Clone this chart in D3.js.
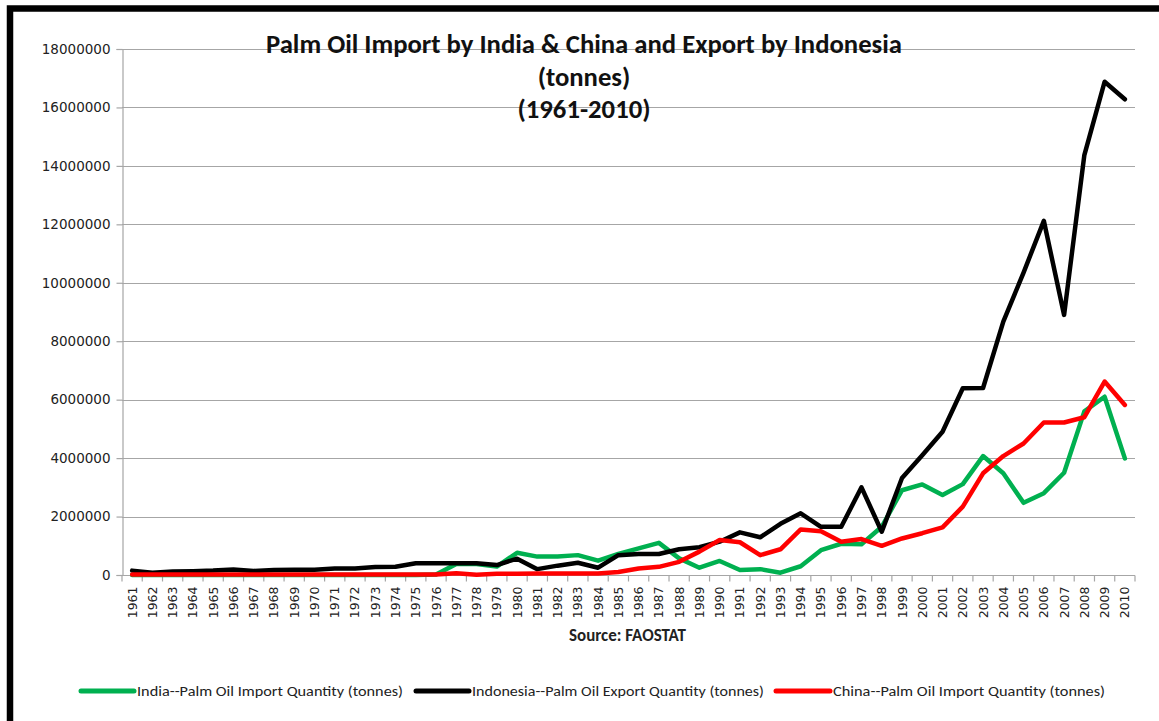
<!DOCTYPE html>
<html>
<head>
<meta charset="utf-8">
<script src="https://cdn.jsdelivr.net/npm/d3@7"></script>
<style>
  html, body { margin: 0; padding: 0; background: #fff; }
  svg { display: block; }
</style>
</head>
<body>
<svg id="chart" width="1159" height="721"></svg>
<script>
// Palm oil trade, 1961-2010, in tonnes (FAOSTAT)
const years = d3.range(1961, 2011).map(String);

const yTicks = [0, 2000000, 4000000, 6000000, 8000000, 10000000, 12000000, 14000000, 16000000, 18000000];

const indiaImport = [
  0, 0, 0, 0, 0, 0, 0, 0, 0, 0,
  0, 0, 0, 0, 0, 20000, 380000, 380000, 290000, 760000,
  630000, 630000, 680000, 490000, 720000, 910000, 1100000, 570000, 250000, 480000,
  170000, 200000, 80000, 300000, 850000, 1070000, 1050000, 1650000, 2900000, 3100000,
  2740000, 3110000, 4070000, 3480000, 2470000, 2800000, 3500000, 5600000, 6100000, 3990000
];

const indonesiaExport = [
  150000, 80000, 120000, 130000, 150000, 190000, 140000, 170000, 180000, 180000,
  220000, 220000, 270000, 280000, 400000, 400000, 400000, 400000, 340000, 560000,
  200000, 320000, 420000, 250000, 680000, 720000, 720000, 880000, 950000, 1140000,
  1460000, 1290000, 1750000, 2110000, 1650000, 1650000, 3000000, 1480000, 3320000, 4100000,
  4900000, 6390000, 6400000, 8670000, 10350000, 12120000, 8900000, 14370000, 16880000, 16280000
];

const chinaImport = [
  20000, 20000, 20000, 20000, 20000, 20000, 20000, 20000, 20000, 20000,
  20000, 20000, 20000, 20000, 20000, 20000, 60000, 10000, 40000, 40000,
  50000, 50000, 50000, 50000, 100000, 220000, 280000, 450000, 800000, 1200000,
  1120000, 680000, 880000, 1560000, 1500000, 1140000, 1230000, 1000000, 1250000, 1430000,
  1630000, 2340000, 3480000, 4070000, 4500000, 5220000, 5220000, 5400000, 6620000, 5820000
];

const seriesNames = [
  "India--Palm Oil Import Quantity (tonnes)",
  "Indonesia--Palm Oil Export Quantity (tonnes)",
  "China--Palm Oil Import Quantity (tonnes)"
];
const seriesColors = ["#00b050", "#000000", "#ff0000"];
const seriesValues = [indiaImport, indonesiaExport, chinaImport];

const titleLines = [
  "Palm Oil Import by India & China and Export by Indonesia",
  "(tonnes)",
  "(1961-2010)"
];
const sourceNote = "Source: FAOSTAT";

const svg = d3.select("#chart");
const plot = { left: 122, right: 1135, top: 49, bottom: 575 };

const x = d3.scaleBand().domain(years).range([plot.left, plot.right]).padding(0);
const y = d3.scaleLinear().domain([0, 18000000]).range([plot.bottom, plot.top]);

const gridColor = "#a6a6a6";

// horizontal gridlines
svg.append("g")
  .selectAll("line")
  .data(yTicks.filter(d => d > 0))
  .join("line")
  .attr("x1", plot.left).attr("x2", plot.right)
  .attr("y1", d => Math.round(y(d)) + 0.5).attr("y2", d => Math.round(y(d)) + 0.5)
  .attr("stroke", gridColor).attr("stroke-width", 1.2);

// y axis
const yAxis = svg.append("g")
  .attr("transform", `translate(${plot.left + 0.5},0)`)
  .call(d3.axisLeft(y).tickValues(yTicks).tickFormat(d3.format("d")).tickSize(6).tickPadding(6));
yAxis.select(".domain").attr("stroke", gridColor).attr("stroke-width", 1.2);
yAxis.selectAll(".tick line").attr("stroke", gridColor).attr("stroke-width", 1.2);
yAxis.selectAll(".tick text")
  .attr("font-family", "'DejaVu Sans', Verdana, sans-serif")
  .attr("font-size", "13.5px")
  .attr("fill", "#222");

// x axis: ticks sit on the category boundaries
const xAxisG = svg.append("g").attr("transform", `translate(0,${Math.round(plot.bottom) + 0.5})`);
xAxisG.append("line")
  .attr("x1", plot.left).attr("x2", plot.right)
  .attr("stroke", gridColor).attr("stroke-width", 1.2);
xAxisG.selectAll("line.tick")
  .data(years.concat(["end"]))
  .join("line")
  .attr("class", "tick")
  .attr("x1", (d, i) => plot.left + i * x.bandwidth())
  .attr("x2", (d, i) => plot.left + i * x.bandwidth())
  .attr("y1", 0).attr("y2", 6)
  .attr("stroke", gridColor).attr("stroke-width", 1.2);
xAxisG.selectAll("text")
  .data(years)
  .join("text")
  .attr("transform", d => `translate(${x(d) + x.bandwidth() / 2 + 4.5},${11}) rotate(-90)`)
  .attr("text-anchor", "end")
  .attr("font-family", "'DejaVu Sans', Verdana, sans-serif")
  .attr("font-size", "12.5px")
  .attr("fill", "#222")
  .text(d => d);

// data lines
const line = d3.line()
  .x((d, i) => x(years[i]) + x.bandwidth() / 2)
  .y(d => y(d));

svg.append("g")
  .selectAll("path")
  .data(seriesValues)
  .join("path")
  .attr("d", d => line(d))
  .attr("fill", "none")
  .attr("stroke", (d, i) => seriesColors[i])
  .attr("stroke-width", 4.5)
  .attr("stroke-linejoin", "round")
  .attr("stroke-linecap", "round");

// title
const title = svg.append("text")
  .attr("text-anchor", "middle")
  .attr("font-family", "Carlito, 'Liberation Sans', Arial, sans-serif")
  .attr("font-weight", "bold")
  .attr("font-size", "20px")
  .attr("fill", "#111");
title.selectAll("tspan")
  .data(titleLines)
  .join("tspan")
  .attr("x", 584)
  .attr("y", (d, i) => 53 + i * 32.5)
  .text(d => d);
// fit the first line to its intended width
const firstLen = title.select("tspan").node().getComputedTextLength();
title.attr("font-size", (20 * 636 / firstLen).toFixed(2) + "px");

// source note
const src = svg.append("text")
  .attr("x", 627.5).attr("y", 641)
  .attr("text-anchor", "middle")
  .attr("font-family", "Carlito, 'Liberation Sans', Arial, sans-serif")
  .attr("font-weight", "bold")
  .attr("font-size", "14px")
  .attr("fill", "#222")
  .text(sourceNote);
const srcLen = src.node().getComputedTextLength();
src.attr("font-size", (14 * 117 / srcLen).toFixed(2) + "px");

// legend
const legendItems = [
  { sx: 81, ex: 134, tx: 137, tw: 266 },
  { sx: 416, ex: 469, tx: 472, tw: 292 },
  { sx: 776, ex: 830, tx: 833, tw: 272 }
];
const legend = svg.append("g");
legendItems.forEach((p, i) => {
  legend.append("line")
    .attr("x1", p.sx).attr("x2", p.ex)
    .attr("y1", 691).attr("y2", 691)
    .attr("stroke", seriesColors[i]).attr("stroke-width", 5)
    .attr("stroke-linecap", "round");
  legend.append("text")
    .attr("x", p.tx).attr("y", 695.5)
    .attr("font-family", "Carlito, 'Liberation Sans Narrow', 'Liberation Sans', Arial, sans-serif")
    .attr("font-size", "14px")
    .attr("fill", "#222")
    .attr("textLength", p.tw)
    .attr("lengthAdjust", "spacingAndGlyphs")
    .text(seriesNames[i]);
});

// outer frame
svg.append("rect")
  .attr("x", 10).attr("y", 8.5)
  .attr("width", 1170).attr("height", 730)
  .attr("fill", "none")
  .attr("stroke", "#000")
  .attr("stroke-width", 6.5);
</script>
</body>
</html>
